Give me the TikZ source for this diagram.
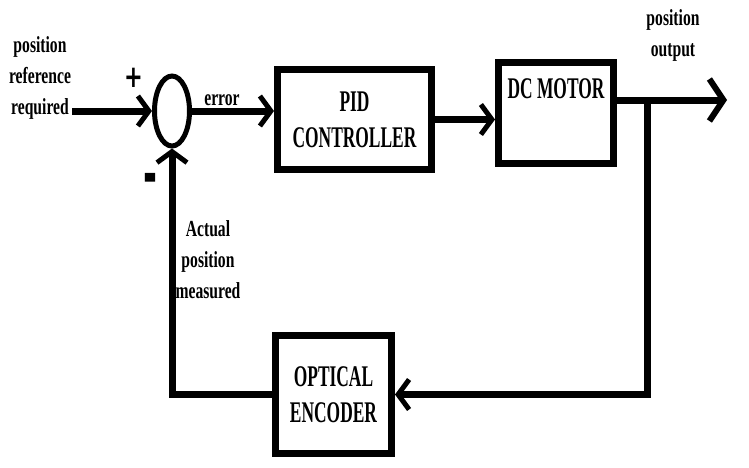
\documentclass[tikz,border=0pt]{standalone}
\usepackage{fontspec}
\setmainfont{Liberation Serif}
\newfontfamily\boxfont[FakeStretch=0.58]{Liberation Serif}
\newfontfamily\labfont[FakeStretch=0.68]{Liberation Serif}
\newfontfamily\signfont{DejaVu Sans}
\usetikzlibrary{shapes.geometric, arrows.meta}

\begin{document}
\begin{tikzpicture}[
        x=1pt, y=-1pt,
        block/.style={rectangle, draw, line width=7pt, align=center, inner sep=0pt, font=\boxfont\bfseries\fontsize{30}{36}\selectfont},
        lbl/.style={align=center, inner sep=0pt, font=\labfont\bfseries\fontsize{23}{31}\selectfont},
        sign/.style={inner sep=0pt, font=\signfont\bfseries\fontsize{28}{28}\selectfont},
        wire/.style={draw, line width=7pt},
        line/.style={wire, -{Straight Barb[length=11pt, width=30pt, line width=5pt]}},
        bigline/.style={wire, -{Straight Barb[length=14pt, width=42pt, line width=6pt]}}
    ]
    \useasboundingbox (0,0) rectangle (749,467);

    % Nodes
    \node [ellipse, draw, line width=5pt, minimum width=35pt, minimum height=70pt, inner sep=0pt] (sum) at (172,111) {};
    \node [block, minimum width=154pt, minimum height=100pt] (pid) at (354.5,119.5) {PID\\CONTROLLER};
    \node [block, minimum width=115pt, minimum height=101pt, text depth=48pt] (motor) at (556,113) {DC MOTOR};
    \node [block, minimum width=116pt, minimum height=118pt] (enc) at (333.5,394.5) {OPTICAL\\ENCODER};

    \coordinate (in) at (72,111);
    \coordinate (br) at (647,100);
    \coordinate (out) at (727,100);

    % Labels
    \node [lbl] (ref) at (40,78) {position\\reference\\required};
    \node [lbl] (outlbl) at (673,35) {position\\output};
    \node [lbl] (err) at (222,100) {error};
    \node [lbl] (meas) at (208,260) {Actual\\position\\measured};
    \node [sign] (plus) at (134,78) {\scalebox{0.8}[1.1]{+}};
    \node [sign] (minus) at (150,184) {\scalebox{1.2}[2.2]{-}};

    % Forward path
    \path [line] (in) -- (sum.west);
    \path [line] (sum.east) -- (sum.east -| pid.west);
    \path [line] (pid.east) -- (pid.east -| motor.west);
    \path [bigline] (motor.east |- br) -- (out);

    % Feedback path
    \path [line] (br) |- (enc.east);
    \path [line] (enc.west) -| (sum.south);

\end{tikzpicture}
\end{document}
